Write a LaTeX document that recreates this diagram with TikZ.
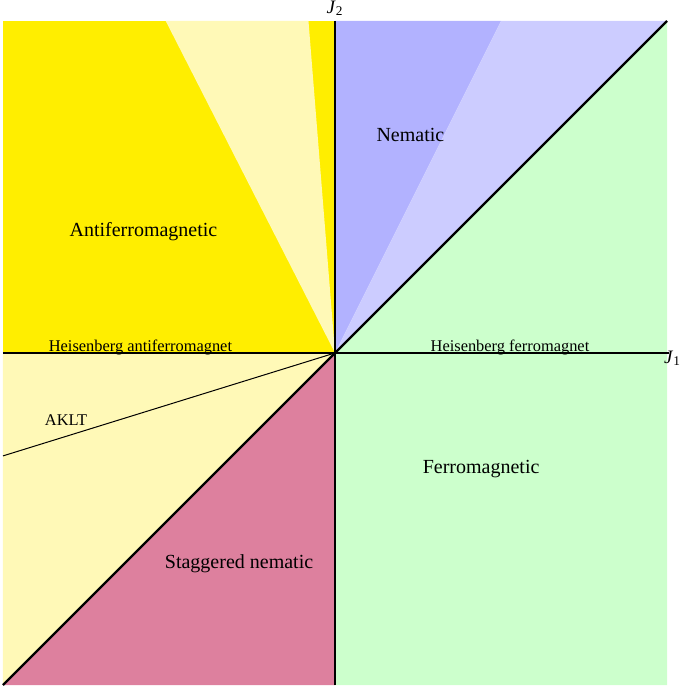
\documentclass[tikz,border=0pt]{standalone}
\usepackage{fontspec}
\setmainfont{Liberation Serif}
\definecolor{afm}{RGB}{255,238,0}
\definecolor{afmlight}{RGB}{255,249,183}
\definecolor{nem}{RGB}{178,178,255}
\definecolor{nemlight}{RGB}{204,204,255}
\definecolor{fm}{RGB}{204,255,204}
\definecolor{snem}{RGB}{221,128,158}
\tikzset{
	phaselabel/.style={font=\fontsize{10}{12}\selectfont},
	linelabel/.style={font=\fontsize{8.2}{10}\selectfont, anchor=base},
	axislabel/.style={font=\fontsize{9.5}{11}\selectfont, inner sep=0.5pt},
}
\begin{document}
\begin{tikzpicture}[x=166pt,y=166pt]
	\useasboundingbox (-1.009,-1.009) rectangle (1.048,1.063);
	\coordinate (O) at (0,0);
	\fill[afm] (O) -- (0,1) -- (-1,1) -- (-1,0) -- cycle;
	\fill[afmlight] (O) -- (-0.08,1) -- (-0.51,1) -- cycle;
	\fill[afmlight] (O) -- (-1,0) -- (-1,-1) -- cycle;
	\fill[snem] (O) -- (-1,-1) -- (0,-1) -- cycle;
	\fill[nem] (O) -- (0,1) -- (0.5,1) -- cycle;
	\fill[nemlight] (O) -- (0.5,1) -- (1,1) -- cycle;
	\fill[fm] (O) -- (1,1) -- (1,-1) -- (0,-1) -- cycle;
	\draw[line width=0.5pt] (O) -- (-1,-0.31);
	\node[axislabel, anchor=east] (j1) at (1.046,-0.016) {\textit{J}\textsubscript{1}};
	\draw[line width=1.2pt] (-1,0) -- (1.005,0);
	\draw[line width=1.2pt] (0,-1) -- (0,1) node[axislabel, above=1.5pt] (j2) {\textit{J}\textsubscript{2}};
	\draw[line width=1.2pt] (-1,-1) -- (1,1);
	\node[phaselabel] (afmlabel) at (-0.577,0.364) {Antiferromagnetic};
	\node[phaselabel] (nemlabel) at (0.227,0.658) {Nematic};
	\node[phaselabel] (fmlabel) at (0.44,-0.349) {Ferromagnetic};
	\node[phaselabel] (snemlabel) at (-0.289,-0.636) {Staggered nematic};
	\node[linelabel] (hafm) at (-0.586,0.005) {Heisenberg antiferromagnet};
	\node[linelabel] (hfm) at (0.527,0.005) {Heisenberg ferromagnet};
	\node[linelabel] (aklt) at (-0.81,-0.218) {AKLT};
\end{tikzpicture}
\end{document}
